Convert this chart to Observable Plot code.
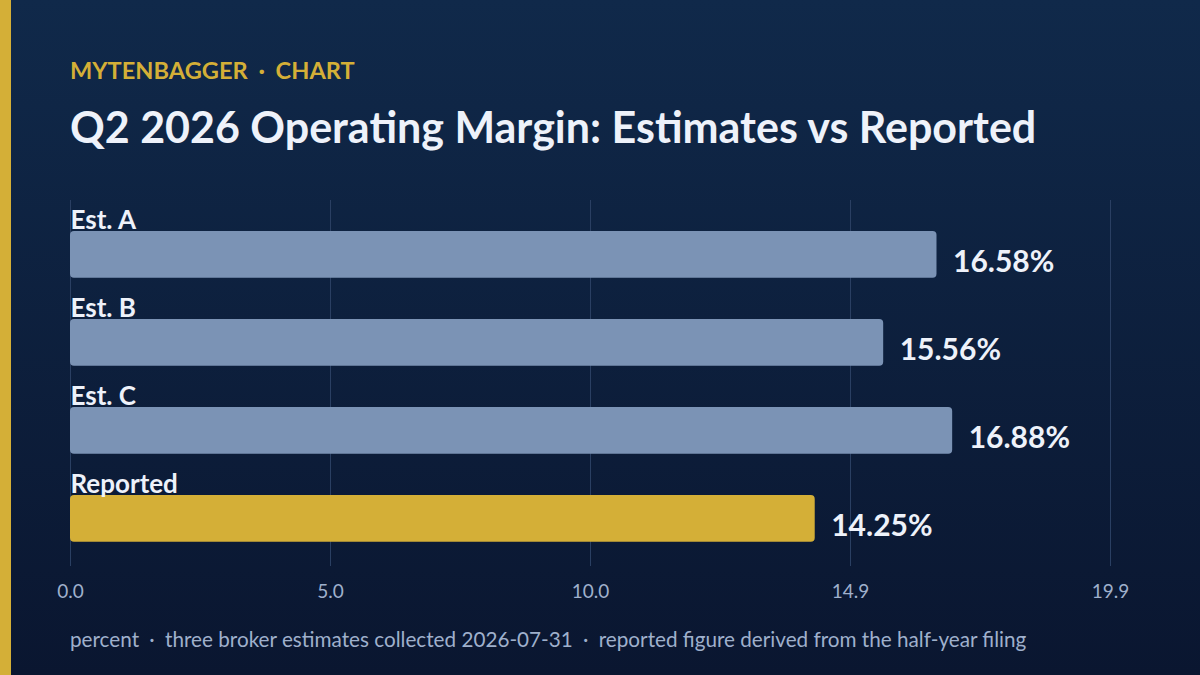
<!DOCTYPE html>
<html>
<head>
<meta charset="utf-8">
<script src="https://cdn.jsdelivr.net/npm/d3@7"></script>
<script src="https://cdn.jsdelivr.net/npm/@observablehq/plot@0.6"></script>
<style>
  html, body { margin: 0; padding: 0; }
  body { width: 1200px; height: 675px; overflow: hidden; font-family: Lato, "Noto Sans", sans-serif; }
  #frame { position: relative; width: 1200px; height: 675px; background: linear-gradient(180deg, #10294a 0%, #0a1630 100%); }
  #stripe { position: absolute; left: 0; top: 0; width: 11px; height: 675px; background: #d4af37; }
  .txt { position: absolute; left: 70px; line-height: 1; white-space: nowrap; }
  .sep { display: inline-block; margin: 0 5px; }
  #kicker { top: 59px; font-size: 23.6px; font-weight: 700; color: #d4af37; }
  #title { top: 105px; font-size: 43px; font-weight: 700; color: #eef2fa; }
  #caption { top: 629px; font-size: 20.7px; color: #9fb0cc; }
  #chart { position: absolute; left: 0; top: 190px; }
</style>
</head>
<body>
<div id="frame">
  <div id="stripe"></div>
  <div id="kicker" class="txt">MYTENBAGGER <span class="sep">·</span> CHART</div>
  <div id="title" class="txt">Q2 2026 Operating Margin: Estimates vs Reported</div>
  <div id="chart"></div>
  <div id="caption" class="txt">percent <span class="sep">·</span> three broker estimates collected 2026-07-31 <span class="sep">·</span> reported figure derived from the half-year filing</div>
</div>
<script>
const categories = ["Est. A", "Est. B", "Est. C", "Reported"];
const values = [16.58, 15.56, 16.88, 14.25];
const kinds = ["estimate", "estimate", "estimate", "reported"];
const tickValues = [0, 4.975, 9.95, 14.925, 19.9];
const tickLabels = ["0.0", "5.0", "10.0", "14.9", "19.9"];

const data = categories.map((c, i) => ({category: c, value: values[i], kind: kinds[i]}));

const chart = Plot.plot({
  width: 1200,
  height: 420,
  marginLeft: 70,
  marginRight: 90,
  marginTop: 10,
  marginBottom: 44,
  style: {background: "transparent", color: "#9fb0cc", fontFamily: "Lato, 'Noto Sans', sans-serif", fontSize: "19px"},
  x: {domain: [0, 19.9], ticks: tickValues, tickFormat: (d, i) => tickLabels[i], tickSize: 0, tickPadding: 18, label: null},
  y: {domain: categories, paddingInner: 0, paddingOuter: 0.0795, axis: null},
  color: {domain: ["estimate", "reported"], range: ["#7b93b5", "#d4af37"]},
  marks: [
    Plot.gridX(tickValues, {stroke: "#2a3f62", strokeOpacity: 1, strokeWidth: 1}),
    Plot.barX(data, {x: "value", y: "category", fill: "kind", insetTop: 24, insetBottom: 17.3, rx: 4}),
    Plot.text(data, {text: "category", y: "category", frameAnchor: "left", textAnchor: "start", lineAnchor: "bottom", dy: -22.5, fill: "#eef2fa", fontSize: 26, fontWeight: 700}),
    Plot.text(data, {text: d => d.value.toFixed(2) + "%", x: "value", y: "category", textAnchor: "start", lineAnchor: "bottom", dx: 16, dy: 20, fill: "#eef2fa", fontSize: 30, fontWeight: 700})
  ]
});
document.getElementById("chart").appendChild(chart);
</script>
</body>
</html>
